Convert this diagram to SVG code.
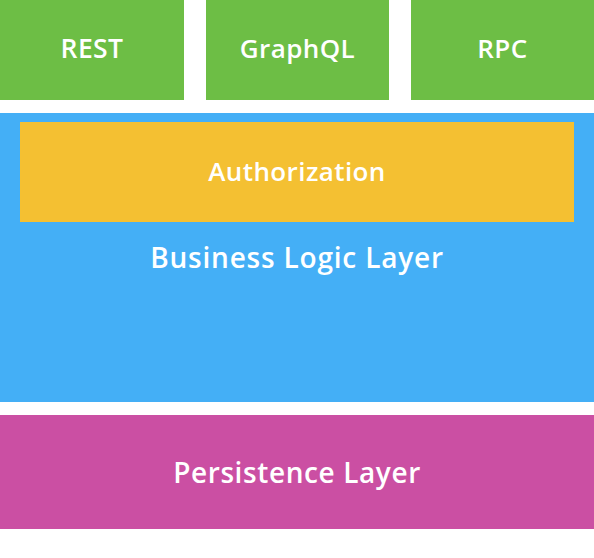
<svg xmlns="http://www.w3.org/2000/svg" width="594" height="558" viewBox="0 0 594 558">
<style>
text{font-family:"Open Sans","Noto Sans",sans-serif;fill:#fff;text-anchor:middle;dominant-baseline:central;font-size:26px;font-weight:600;letter-spacing:0.4px}
.g{fill:#6DBE45}.b{fill:#44AFF6}.y{fill:#F4C032}.p{fill:#CB4FA3}
</style>
<rect width="594" height="558" fill="#fff"/>
<g id="rest"><rect class="g" x="0" y="0" width="184" height="100"/><text x="92" y="48" style="font-size:26.5px">REST</text></g>
<g id="graphql"><rect class="g" x="206" y="0" width="183" height="100"/><text x="297.5" y="48">GraphQL</text></g>
<g id="rpc"><rect class="g" x="411" y="0" width="183" height="100"/><text x="502.5" y="48">RPC</text></g>
<g id="business"><rect class="b" x="0" y="113" width="594" height="289"/><text x="297" y="256.5" style="font-size:28px;letter-spacing:0.8px">Business Logic Layer</text></g>
<g id="authorization"><rect class="y" x="20" y="122" width="554" height="100"/><text x="297" y="170.5" style="font-size:26px">Authorization</text></g>
<g id="persistence"><rect class="p" x="0" y="415" width="594" height="114"/><text x="297" y="471.5" style="font-size:28px;letter-spacing:0.6px">Persistence Layer</text></g>
<g id="connectors"></g>
</svg>
